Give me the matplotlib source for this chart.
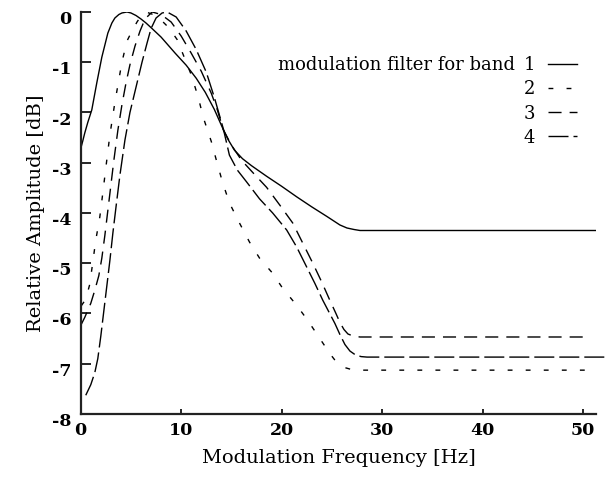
import matplotlib
matplotlib.use("Agg")
import matplotlib.pyplot as plt
import matplotlib.transforms as mtransforms

# ---- data ----
x1 = [0, 0.2, 0.4, 0.7, 1.1, 1.6, 2.1, 2.7, 3.1, 3.4, 3.8, 4.1, 4.6, 5.0, 5.5, 6.0,
      6.5, 7.1, 8.0, 9.4, 10.5, 11.5, 12.4, 13.3, 14.1, 14.7, 15.3, 16.1, 17.0, 18.5,
      20.0, 21.5, 23.0, 24.5, 25.8, 26.5, 27.2, 27.8, 28.5, 51.3]
y1 = [-2.72, -2.57, -2.41, -2.2, -1.95, -1.41, -0.9, -0.42, -0.22, -0.12, -0.05,
      -0.02, 0.0, -0.02, -0.07, -0.14, -0.22, -0.33, -0.5, -0.82, -1.06, -1.32, -1.6,
      -1.94, -2.3, -2.55, -2.75, -2.92, -3.06, -3.27, -3.47, -3.68, -3.88, -4.07,
      -4.24, -4.3, -4.33, -4.35, -4.35, -4.35]

x2 = [0.05, 0.5, 0.9, 1.2, 1.5, 1.9, 2.2, 2.5, 2.9, 3.4, 4.1, 4.6, 5.1, 5.6, 6.0, 6.5,
      7.2, 8.0, 8.8, 9.6, 10.2, 11.0, 11.7, 12.2, 13.0, 13.5, 14.1, 14.8, 15.8, 16.8,
      17.8, 19.1, 20.1, 21.5, 22.6, 23.7, 24.8, 25.3, 25.8, 26.3, 27.0, 27.8, 51.3]
y2 = [-5.85, -5.72, -5.42, -4.98, -4.54, -4.08, -3.6, -3.1, -2.45, -1.8, -1.0, -0.58,
      -0.38, -0.2, -0.08, 0.0, -0.05, -0.16, -0.32, -0.55, -0.85, -1.25, -1.7, -2.1,
      -2.58, -2.95, -3.38, -3.8, -4.2, -4.58, -4.9, -5.2, -5.5, -5.84, -6.14, -6.47,
      -6.8, -6.93, -7.02, -7.08, -7.12, -7.13, -7.13]

x3 = [0.05, 0.4, 1.0, 1.4, 1.8, 2.1, 2.4, 2.7, 3.0, 3.3, 3.7, 4.1, 4.5, 4.9, 5.4,
      5.9, 6.4, 7.1, 8.0, 9.0, 10.0, 11.0, 12.0, 13.0, 13.6, 14.2, 15.0, 16.0, 17.1,
      18.5, 19.8, 21.1, 22.1, 23.1, 24.0, 24.8, 25.4, 25.8, 26.2, 26.6, 27.1, 27.8,
      50.7]
y3 = [-6.22, -6.08, -5.8, -5.54, -5.25, -4.9, -4.45, -3.95, -3.45, -2.95, -2.35,
      -1.85, -1.42, -1.05, -0.68, -0.38, -0.14, 0.0, -0.05, -0.2, -0.48, -0.82, -1.18,
      -1.62, -1.95, -2.35, -2.65, -2.95, -3.19, -3.49, -3.84, -4.2, -4.6, -5.0, -5.38,
      -5.74, -6.0, -6.18, -6.32, -6.41, -6.45, -6.47, -6.47]

x4 = [0.5, 1.0, 1.4, 1.7, 2.0, 2.3, 2.6, 2.9, 3.2, 3.5, 3.9, 4.4, 4.9, 5.5, 6.1, 6.6,
      7.0, 7.5, 8.1, 8.6, 9.5, 10.5, 11.5, 12.5, 13.3, 14.2, 14.8, 15.6, 16.5, 17.8,
      19.1, 20.5, 21.5, 22.5, 23.3, 24.1, 24.7, 25.3, 25.8, 26.3, 26.8, 27.3, 27.9,
      28.5, 52.5]
y4 = [-7.63, -7.42, -7.18, -6.9, -6.45, -5.95, -5.45, -4.95, -4.4, -3.9, -3.25,
      -2.55, -2.0, -1.5, -1.0, -0.62, -0.33, -0.12, -0.02, 0.0, -0.1, -0.38, -0.75,
      -1.2, -1.7, -2.33, -2.85, -3.15, -3.38, -3.72, -4.0, -4.34, -4.68, -5.08, -5.4,
      -5.74, -5.97, -6.2, -6.42, -6.62, -6.75, -6.82, -6.86, -6.87, -6.87]

band_labels = ["1", "2", "3", "4"]
x_ticks = [0, 10, 20, 30, 40, 50]
y_ticks = [0, -1, -2, -3, -4, -5, -6, -7, -8]

# ---- figure ----
plt.rcParams["font.family"] = ["DejaVu Serif"]
fig = plt.figure(figsize=(6.07, 4.79), dpi=100)
ax = fig.add_axes([0.133, 0.136, 0.849, 0.839])

lw = 1.0
l1, = ax.plot(x1, y1, color="black", lw=lw, linestyle="-")
l2, = ax.plot(x2, y2, color="black", lw=lw, linestyle=(0, (3.5, 9.5)))
l3, = ax.plot(x3, y3, color="black", lw=lw, linestyle=(0, (9.4, 5.8)))
l4, = ax.plot(x4, y4, color="black", lw=lw, linestyle=(0, (14.4, 3.6)), clip_on=False)

ax.set_xlim(0, 51.3)
ax.set_ylim(-8, 0)
ax.set_xticks(x_ticks)
ax.set_yticks(y_ticks)
ax.set_xticklabels([str(v) for v in x_ticks], fontweight="bold", fontsize=12.5)
ax.set_yticklabels([str(v) for v in y_ticks], fontweight="bold", fontsize=12.5)

ax.spines["top"].set_visible(False)
ax.spines["right"].set_visible(False)
for s in ("left", "bottom"):
    ax.spines[s].set_linewidth(1.6)
    ax.spines[s].set_color("#222222")
ax.tick_params(axis="y", direction="in", length=7.5, width=1.2, pad=7)
ax.tick_params(axis="x", direction="in", length=3.5, width=1.2, pad=6)

# small downward shift of y tick labels as in the reference
off = mtransforms.ScaledTranslation(0, -4 / 72, fig.dpi_scale_trans)
for t in ax.get_yticklabels():
    t.set_transform(t.get_transform() + off)

ax.set_xlabel("Modulation Frequency [Hz]", fontsize=14, labelpad=7)
ax.set_ylabel("Relative Amplitude [dB]", fontsize=14, labelpad=5)

leg = ax.legend([l1, l2, l3, l4], band_labels, loc="upper right",
                bbox_to_anchor=(0.994, 0.93), frameon=False, markerfirst=False,
                handlelength=1.6, handletextpad=0.7, labelspacing=0.34,
                prop={"family": "DejaVu Serif", "size": 13})
fig.canvas.draw()
# text placed to the left of the first legend entry
t0 = leg.get_texts()[0]
bb = t0.get_window_extent()
inv = fig.transFigure.inverted()
x0, y0 = inv.transform((bb.x0, (bb.y0 + bb.y1) / 2))
fig.text(x0 - 0.014, y0, "modulation filter for band", ha="right", va="center",
         fontsize=13)

fig.savefig("out.png", dpi=100)
